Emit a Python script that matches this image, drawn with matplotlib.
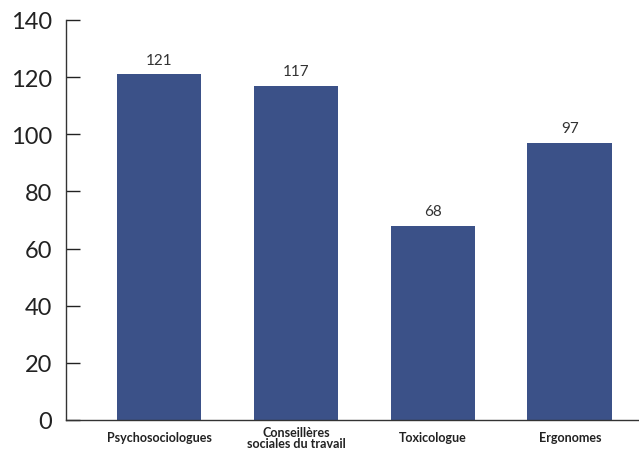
import matplotlib
matplotlib.use("Agg")
import matplotlib.pyplot as plt

categories = ["Psychosociologues", "Conseillères\nsociales du travail", "Toxicologue", "Ergonomes"]
values = [121, 117, 68, 97]
yticks = [0, 20, 40, 60, 80, 100, 120, 140]

plt.rcParams["font.family"] = ["Lato", "DejaVu Sans"]

fig = plt.figure(figsize=(6.39, 4.52), dpi=100)
ax = fig.add_axes([66 / 639, 1 - 421 / 452, 1 - 66 / 639, (421 - 21) / 452])

x = list(range(len(categories)))
bars = ax.bar(x, values, width=0.62, color="#3b5188")

for xi, v in zip(x, values):
    ax.annotate(str(v), (xi, v), xytext=(0, 5.5), textcoords="offset points",
                ha="center", va="bottom", fontsize=11, color="#333333")

ax.set_xlim(-0.679, 3.504)
ax.set_ylim(0, 140)
ax.set_yticks(yticks)
ax.tick_params(axis="y", direction="in", length=10, width=1, labelsize=17,
               pad=10, colors="#222222")
ax.set_xticks(x)
ax.set_xticklabels(categories, fontsize=9, fontweight="bold", va="center",
                   linespacing=0.95)
ax.tick_params(axis="x", length=0, pad=12.5, colors="#222222")

for s in ["top", "right"]:
    ax.spines[s].set_visible(False)
for s in ["left", "bottom"]:
    ax.spines[s].set_color("#333333")
    ax.spines[s].set_linewidth(1)

fig.savefig("out.png", dpi=100)
